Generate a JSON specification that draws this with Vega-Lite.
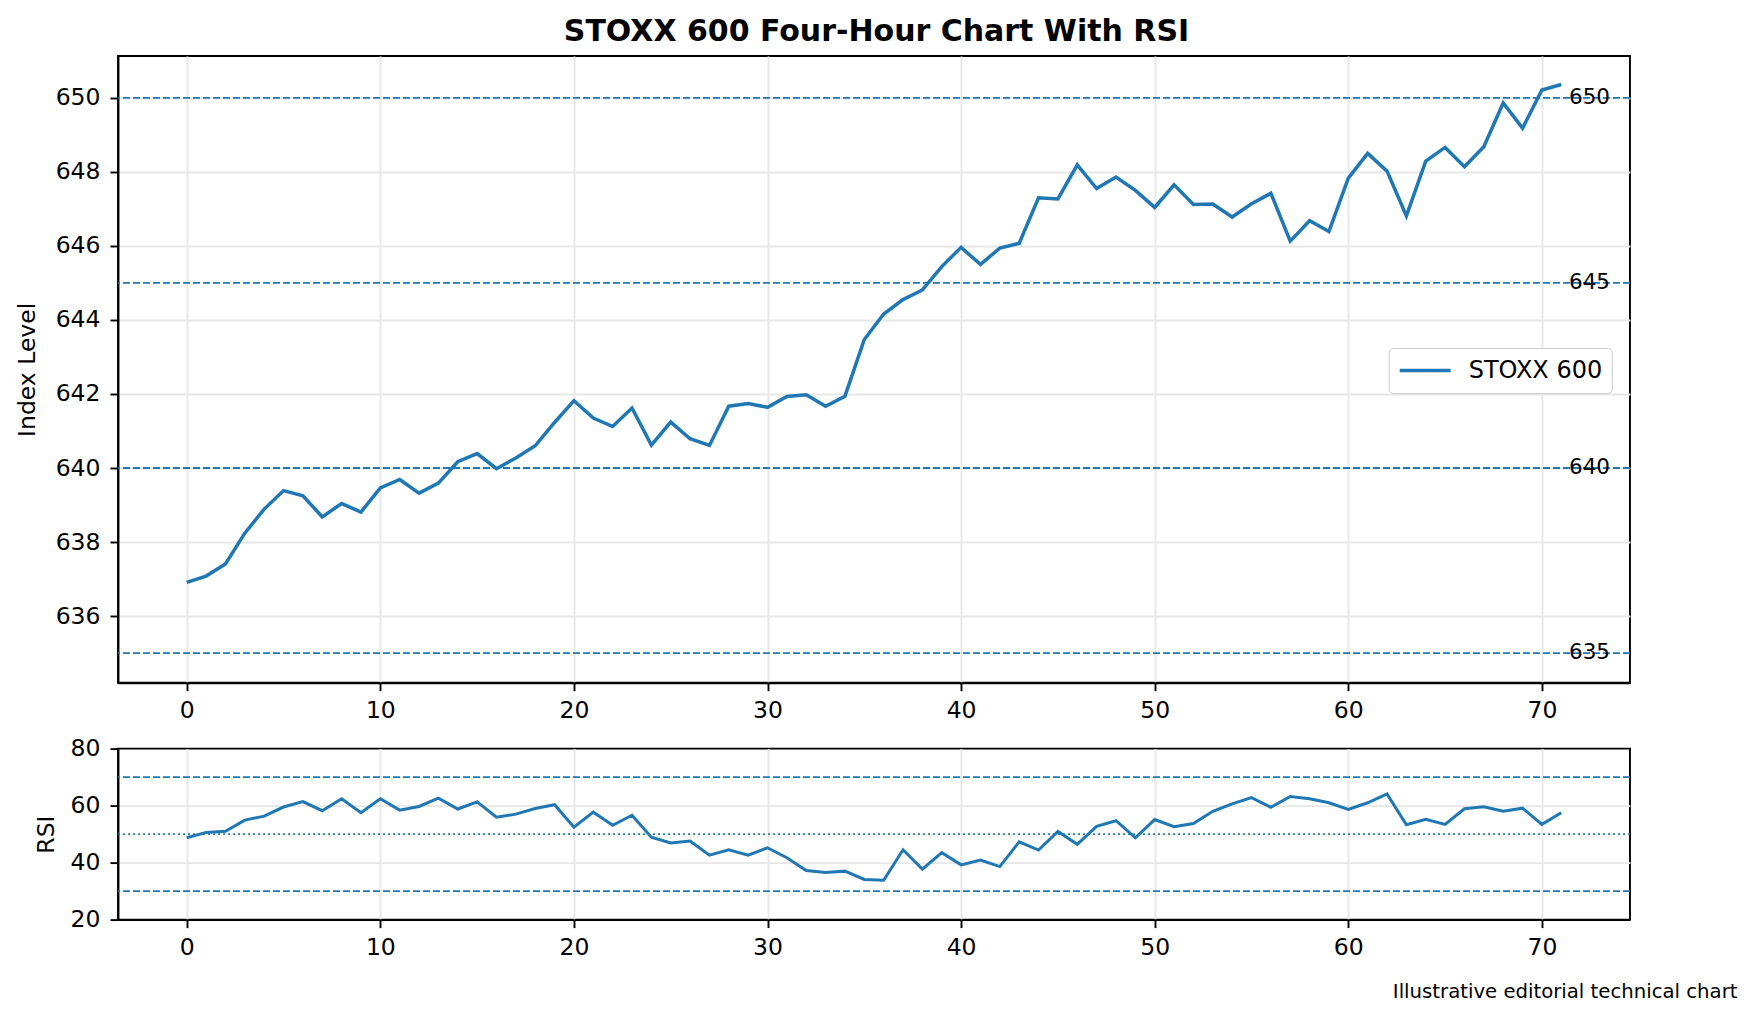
{
  "$schema": "https://vega.github.io/schema/vega-lite/v6.json",
  "padding": {"left": 15, "top": 17, "right": 18.7, "bottom": 16},
  "background": "white",
  "title": {
    "text": "STOXX 600 Four-Hour Chart With RSI",
    "font": "DejaVu Sans",
    "fontSize": 30,
    "fontWeight": "bold",
    "color": "black",
    "anchor": "middle",
    "baseline": "alphabetic",
    "offset": -16
  },
  "datasets": {
    "bars": [
      {"bar": 0, "close": 636.91, "rsi": 48.7},
      {"bar": 1, "close": 637.08, "rsi": 50.6},
      {"bar": 2, "close": 637.41, "rsi": 51.0},
      {"bar": 3, "close": 638.24, "rsi": 54.9},
      {"bar": 4, "close": 638.89, "rsi": 56.3},
      {"bar": 5, "close": 639.39, "rsi": 59.5},
      {"bar": 6, "close": 639.25, "rsi": 61.4},
      {"bar": 7, "close": 638.68, "rsi": 58.2},
      {"bar": 8, "close": 639.04, "rsi": 62.4},
      {"bar": 9, "close": 638.81, "rsi": 57.5},
      {"bar": 10, "close": 639.46, "rsi": 62.4},
      {"bar": 11, "close": 639.69, "rsi": 58.4},
      {"bar": 12, "close": 639.32, "rsi": 59.7},
      {"bar": 13, "close": 639.59, "rsi": 62.6},
      {"bar": 14, "close": 640.17, "rsi": 58.8},
      {"bar": 15, "close": 640.39, "rsi": 61.3},
      {"bar": 16, "close": 639.98, "rsi": 55.9},
      {"bar": 17, "close": 640.27, "rsi": 57.0},
      {"bar": 18, "close": 640.60, "rsi": 59.0},
      {"bar": 19, "close": 641.23, "rsi": 60.3},
      {"bar": 20, "close": 641.82, "rsi": 52.4},
      {"bar": 21, "close": 641.35, "rsi": 57.7},
      {"bar": 22, "close": 641.12, "rsi": 53.1},
      {"bar": 23, "close": 641.62, "rsi": 56.6},
      {"bar": 24, "close": 640.62, "rsi": 48.9},
      {"bar": 25, "close": 641.24, "rsi": 46.9},
      {"bar": 26, "close": 640.79, "rsi": 47.6},
      {"bar": 27, "close": 640.61, "rsi": 42.6},
      {"bar": 28, "close": 641.67, "rsi": 44.5},
      {"bar": 29, "close": 641.74, "rsi": 42.6},
      {"bar": 30, "close": 641.64, "rsi": 45.2},
      {"bar": 31, "close": 641.93, "rsi": 41.7},
      {"bar": 32, "close": 641.98, "rsi": 37.2},
      {"bar": 33, "close": 641.67, "rsi": 36.5},
      {"bar": 34, "close": 641.94, "rsi": 37.0},
      {"bar": 35, "close": 643.47, "rsi": 34.1},
      {"bar": 36, "close": 644.16, "rsi": 33.8},
      {"bar": 37, "close": 644.55, "rsi": 44.5},
      {"bar": 38, "close": 644.81, "rsi": 37.7},
      {"bar": 39, "close": 645.44, "rsi": 43.5},
      {"bar": 40, "close": 645.96, "rsi": 39.2},
      {"bar": 41, "close": 645.50, "rsi": 40.9},
      {"bar": 42, "close": 645.94, "rsi": 38.6},
      {"bar": 43, "close": 646.07, "rsi": 47.3},
      {"bar": 44, "close": 647.30, "rsi": 44.4},
      {"bar": 45, "close": 647.27, "rsi": 50.9},
      {"bar": 46, "close": 648.19, "rsi": 46.4},
      {"bar": 47, "close": 647.55, "rsi": 52.7},
      {"bar": 48, "close": 647.86, "rsi": 54.7},
      {"bar": 49, "close": 647.50, "rsi": 48.7},
      {"bar": 50, "close": 647.04, "rsi": 55.1},
      {"bar": 51, "close": 647.65, "rsi": 52.6},
      {"bar": 52, "close": 647.12, "rsi": 53.7},
      {"bar": 53, "close": 647.13, "rsi": 58.0},
      {"bar": 54, "close": 646.78, "rsi": 60.6},
      {"bar": 55, "close": 647.14, "rsi": 62.8},
      {"bar": 56, "close": 647.42, "rsi": 59.4},
      {"bar": 57, "close": 646.13, "rsi": 63.2},
      {"bar": 58, "close": 646.68, "rsi": 62.4},
      {"bar": 59, "close": 646.39, "rsi": 61.0},
      {"bar": 60, "close": 647.83, "rsi": 58.7},
      {"bar": 61, "close": 648.50, "rsi": 61.0},
      {"bar": 62, "close": 648.02, "rsi": 64.1},
      {"bar": 63, "close": 646.81, "rsi": 53.3},
      {"bar": 64, "close": 648.29, "rsi": 55.2},
      {"bar": 65, "close": 648.66, "rsi": 53.4},
      {"bar": 66, "close": 648.14, "rsi": 58.9},
      {"bar": 67, "close": 648.68, "rsi": 59.6},
      {"bar": 68, "close": 649.86, "rsi": 58.0},
      {"bar": 69, "close": 649.18, "rsi": 59.1},
      {"bar": 70, "close": 650.21, "rsi": 53.4},
      {"bar": 71, "close": 650.36, "rsi": 57.5}
    ],
    "levels": [{"level": 635}, {"level": 640}, {"level": 645}, {"level": 650}],
    "bands": [{"level": 30}, {"level": 70}],
    "mid": [{"level": 50}]
  },
  "vconcat": [
    {
      "width": 1512,
      "height": 626.7,
      "layer": [
        {
          "data": {"name": "levels"},
          "mark": {"type": "rule", "color": "#1f77b4", "strokeWidth": 1.9, "strokeDash": [7, 3]},
          "encoding": {
            "y": {"field": "level", "type": "quantitative", "scale": {"domain": [634.2, 651.13], "nice": false, "zero": false}}
          }
        },
        {
          "data": {"name": "levels"},
          "mark": {"type": "text", "align": "left", "baseline": "middle", "font": "DejaVu Sans", "fontSize": 21.5, "color": "black"},
          "encoding": {
            "x": {"datum": 71.4, "type": "quantitative"},
            "y": {"field": "level", "type": "quantitative"},
            "text": {"field": "level", "type": "quantitative"}
          }
        },
        {
          "data": {"name": "bars"},
          "mark": {"type": "line", "strokeWidth": 3.5},
          "encoding": {
            "x": {
              "field": "bar", "type": "quantitative",
              "scale": {"domain": [-3.55, 74.55], "nice": false, "zero": false},
              "axis": {"values": [0, 10, 20, 30, 40, 50, 60, 70], "title": null}
            },
            "y": {
              "field": "close", "type": "quantitative",
              "axis": {"values": [636, 638, 640, 642, 644, 646, 648, 650], "title": "Index Level", "titleX": -83, "titleBaseline": "alphabetic", "labelPadding": 10}
            },
            "color": {
              "datum": "STOXX 600",
              "scale": {"range": ["#1f77b4"]},
              "legend": {
                "title": null,
                "orient": "none",
                "legendX": 1270.7,
                "legendY": 292,
                "symbolType": "stroke",
                "symbolSize": 2600,
                "symbolStrokeWidth": 3.5,
                "clipHeight": 27,
                "labelFont": "DejaVu Sans",
                "labelFontSize": 24,
                "labelColor": "black",
                "labelOffset": 16,
                "padding": 9,
                "strokeColor": "#cccccc",
                "fillColor": "white",
                "cornerRadius": 4
              }
            }
          }
        }
      ]
    },
    {
      "width": 1512,
      "height": 171,
      "layer": [
        {
          "data": {"name": "bands"},
          "mark": {"type": "rule", "color": "#1f77b4", "strokeWidth": 1.9, "strokeDash": [7, 3]},
          "encoding": {
            "y": {"field": "level", "type": "quantitative", "scale": {"domain": [20, 80], "nice": false, "zero": false}}
          }
        },
        {
          "data": {"name": "mid"},
          "mark": {"type": "rule", "color": "#1f77b4", "strokeWidth": 1.9, "strokeDash": [1.9, 3.1]},
          "encoding": {
            "y": {"field": "level", "type": "quantitative"}
          }
        },
        {
          "data": {"name": "bars"},
          "mark": {"type": "line", "strokeWidth": 3, "color": "#1f77b4"},
          "encoding": {
            "x": {
              "field": "bar", "type": "quantitative",
              "scale": {"domain": [-3.55, 74.55], "nice": false, "zero": false},
              "axis": {
                "values": [0, 10, 20, 30, 40, 50, 60, 70],
                "title": "Illustrative editorial technical chart",
                "titleFontSize": 19.7,
                "titleAlign": "right",
                "titleAnchor": "end",
                "titleX": 1619,
                "titleY": 78.4,
                "titleBaseline": "alphabetic"
              }
            },
            "y": {
              "field": "rsi", "type": "quantitative",
              "axis": {
                "values": [20, 40, 60, 80],
                "title": "RSI",
                "titleX": -64,
                "titleBaseline": "alphabetic",
                "labelPadding": 10,
                "gridOpacity": {"condition": {"test": "datum.value == 20 || datum.value == 80", "value": 0}, "value": 1}
              }
            }
          }
        }
      ]
    }
  ],
  "spacing": 65.6,
  "bounds": "flush",
  "config": {
    "font": "DejaVu Sans",
    "view": {"stroke": "black", "strokeWidth": 1.9},
    "axis": {
      "domainColor": "black",
      "domainWidth": 1.9,
      "tickColor": "black",
      "tickWidth": 1.9,
      "tickSize": 8,
      "labelFont": "DejaVu Sans",
      "labelFontSize": 23.5,
      "labelColor": "black",
      "labelPadding": 8,
      "titleFont": "DejaVu Sans",
      "titleFontSize": 23.5,
      "titleFontWeight": "normal",
      "titleColor": "black",
      "grid": true,
      "gridColor": "#e7e7e7",
      "gridWidth": 1.9
    }
  }
}
